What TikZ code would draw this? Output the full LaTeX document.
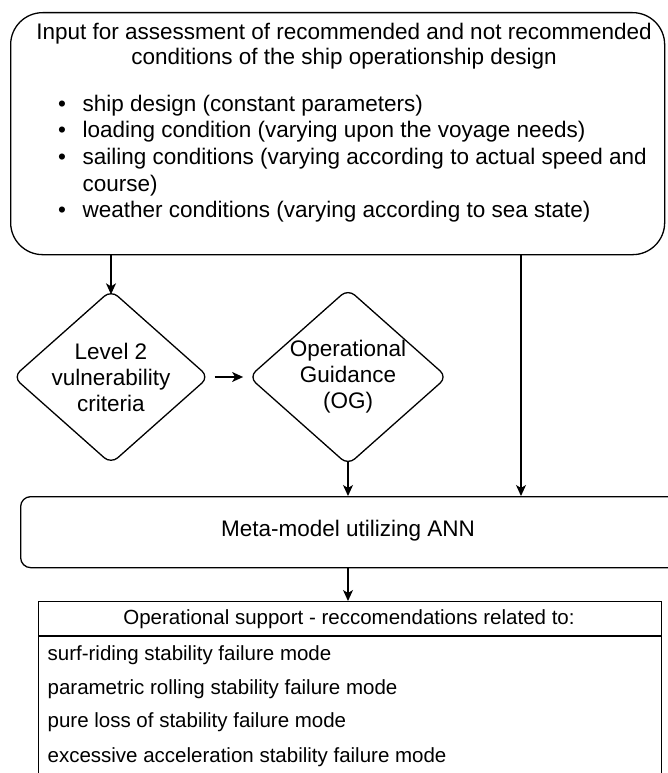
\documentclass[tikz,border=0pt]{standalone}
\usepackage{fontspec}
\setmainfont{Liberation Sans}
\usetikzlibrary{shapes.geometric,arrows.meta}
\begin{document}
\begin{tikzpicture}[x=1pt,y=-1pt,
  line width=1.3pt,
  conn/.style={-{Stealth[length=11pt,width=10pt,inset=3pt]}},
  txt/.style={font=\fontsize{22.5}{25.5}\selectfont, inner sep=0pt},
  rowtxt/.style={font=\fontsize{20.5}{24}\selectfont, inner sep=0pt, anchor=west},
  decision/.style={draw, shape=diamond, aspect=1.126, minimum width=188pt,
    minimum height=167pt, inner sep=0pt, rounded corners=9pt, align=center,
    font=\fontsize{22.5}{26}\selectfont}
]
\useasboundingbox (0,0) rectangle (668,773);
\clip (0,0) rectangle (668,773);

% input box
\node[draw, rounded corners=32pt, minimum width=654pt, minimum height=242pt,
      inner sep=0pt, anchor=north west] (input) at (10,12) {};
\node[txt, align=center] (title) at (344,46)
  {Input for assessment of recommended and not recommended\\
   conditions of the ship operationship design};
\foreach \yy in {106,132,159,212}
  \node[txt] at (62,\yy) {\textbullet};
\node[txt, anchor=west] (b1) at (82,106) {ship design (constant parameters)};
\node[txt, anchor=west] (b2) at (82,132) {loading condition (varying upon the voyage needs)};
\node[txt, anchor=west] (b3) at (82,159) {sailing conditions (varying according to actual speed and};
\node[txt, anchor=west] (b3b) at (82,186) {course)};
\node[txt, anchor=west] (b4) at (82,212) {weather conditions (varying according to sea state)};

% decisions
\node[decision] (lvl) at (111,377) {Level 2\\vulnerability\\criteria};
\node[decision] (og) at (348,377) {Operational\\Guidance\\(OG)};

% meta-model
\node[draw, rounded corners=10pt, minimum width=680pt, minimum height=71pt,
      inner sep=0pt, anchor=north west] (meta) at (20,496) {};
\node[txt] (metatxt) at (348,531) {Meta-model utilizing ANN};

% support table
\node[draw, minimum width=623pt, minimum height=200pt, inner sep=0pt,
      anchor=north west] (tab) at (38,601) {};
\coordinate (hl) at (38,636);
\coordinate (hr) at (661,636);
\draw (hl) -- (hr);
\node[rowtxt, anchor=center] (head) at (349,619) {Operational support - reccomendations related to:};
\node[rowtxt] (r1) at (47,655) {surf-riding stability failure mode};
\node[rowtxt] (r2) at (47,689) {parametric rolling stability failure mode};
\node[rowtxt] (r3) at (47,722) {pure loss of stability failure mode};
\node[rowtxt] (r4) at (47,757) {excessive acceleration stability failure mode};

% connectors
\coordinate (s1) at (111,255);
\draw[conn] (s1) -- ([yshift=-5pt]lvl.north);
\draw[conn] ([xshift=5pt]lvl.east) -- ([xshift=-5pt]og.west);
\draw[conn] ([yshift=5pt]og.south) -- (og.south |- meta.north);
\coordinate (s2) at (521,255);
\draw[conn] (s2) -- (s2 |- meta.north);
\draw[conn] (meta.south -| og.south) -- (tab.north -| og.south);
\end{tikzpicture}
\end{document}
